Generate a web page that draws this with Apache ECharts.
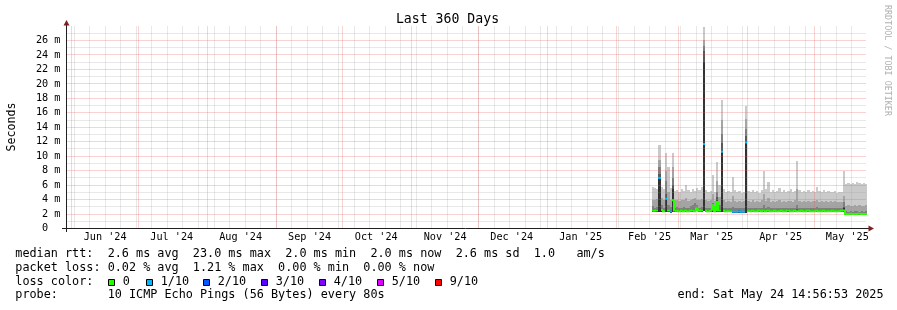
<!DOCTYPE html>
<html>
<head>
<meta charset="utf-8">
<script src="https://cdn.jsdelivr.net/npm/echarts@6/dist/echarts.min.js"></script>
<style>
html,body{margin:0;padding:0;background:#fff;}
#chart{width:897px;height:310px;}
</style>
</head>
<body>
<div id="chart"></div>
<script>
// ---------------- DATA ----------------
const END_TIME = '2025-05-24T14:56:53';
const SPAN_DAYS = 360;

const dayDates = [
 '2025-02-17','2025-02-18','2025-02-19','2025-02-20','2025-02-21','2025-02-22','2025-02-23','2025-02-24','2025-02-25','2025-02-26','2025-02-27','2025-02-28',
 '2025-03-01','2025-03-02','2025-03-03','2025-03-04','2025-03-05','2025-03-06','2025-03-07','2025-03-08','2025-03-09','2025-03-10',
 '2025-03-11','2025-03-12','2025-03-13','2025-03-14','2025-03-15','2025-03-16','2025-03-17','2025-03-18','2025-03-19','2025-03-20',
 '2025-03-21','2025-03-22','2025-03-23','2025-03-24','2025-03-25','2025-03-26','2025-03-27','2025-03-28','2025-03-29','2025-03-30','2025-03-31',
 '2025-04-01','2025-04-02','2025-04-03','2025-04-04','2025-04-05','2025-04-06','2025-04-07','2025-04-08','2025-04-09','2025-04-10',
 '2025-04-11','2025-04-12','2025-04-13','2025-04-14','2025-04-15','2025-04-16','2025-04-17','2025-04-18','2025-04-19','2025-04-20',
 '2025-04-21','2025-04-22','2025-04-23','2025-04-24','2025-04-25','2025-04-26','2025-04-27','2025-04-28','2025-04-29','2025-04-30',
 '2025-05-01','2025-05-02','2025-05-03','2025-05-04','2025-05-05','2025-05-06','2025-05-07','2025-05-08','2025-05-09','2025-05-10',
 '2025-05-11','2025-05-12','2025-05-13','2025-05-14','2025-05-15','2025-05-16','2025-05-17','2025-05-18','2025-05-19','2025-05-20',
 '2025-05-21','2025-05-22','2025-05-23','2025-05-24'
];

// median RTT (ms)
const medianMs = [
 2.5,2.45,2.5,7.0,2.55,2.4,4.1,2.5,2.35,3.9,2.5,2.45,
 2.4,2.45,2.4,2.45,2.4,2.45,2.5,2.4,2.75,2.45,2.5,11.7,2.45,2.4,2.45,3.2,2.4,3.7,2.5,10.6,2.45,2.4,2.4,2.4,2.3,2.3,2.3,2.35,2.3,2.3,11.9,
 2.4,2.4,2.45,2.4,2.4,2.45,2.4,2.5,2.4,2.45,2.4,2.4,2.45,2.4,2.4,2.45,2.4,2.4,2.5,2.4,2.4,2.45,2.4,2.4,2.45,2.4,2.4,2.45,2.4,2.4,
 2.4,2.45,2.4,2.4,2.45,2.4,2.4,2.4,2.45,2.4,2.4,2.4,2.45,2.5,2.0,2.0,2.05,2.0,2.0,2.0,2.05,2.0,2.0,2.0
];

// packet loss per day, in tenths (pings lost out of 10)
const lossTenths = [
 0,0,0,1,0,0,1,0,1,0,0,0,
 0,0,0,0,0,0,0,0,0,0,0,1,0,0,0,0,0,0,0,1,0,0,0,0,1,1,1,1,1,1,1,
 0,0,0,0,0,0,0,0,0,0,0,0,0,0,0,0,0,0,0,0,0,0,0,0,0,0,0,0,0,0,
 0,0,0,0,0,0,0,0,0,0,0,0,0,0,0,0,0,0,0,0,0,0,0,0
];

// smoke: sorted ping RTTs (ms) — lowest ping, and pings 6..10 of 10
const pingLowMs = [
 2.3,2.3,2.35,2.3,2.35,2.25,2.3,2.3,2.2,2.3,2.35,2.3,
 2.25,2.3,2.25,2.3,2.25,2.3,2.35,2.25,2.4,2.3,2.35,2.4,2.3,2.25,2.3,2.3,2.25,2.3,2.3,2.35,2.3,2.25,2.25,2.25,2.15,2.15,2.15,2.2,2.15,2.15,2.2,
 2.25,2.25,2.3,2.25,2.25,2.3,2.25,2.3,2.25,2.3,2.25,2.25,2.3,2.25,2.25,2.3,2.25,2.25,2.3,2.25,2.25,2.3,2.25,2.25,2.3,2.25,2.25,2.3,2.25,2.25,
 2.25,2.3,2.25,2.25,2.3,2.25,2.25,2.25,2.3,2.25,2.25,2.25,2.3,2.3,1.85,1.85,1.9,1.85,1.85,1.85,1.9,1.85,1.85,1.85
];
const ping6Ms = [
 2.5,2.45,2.5,7.0,2.55,2.4,4.2,2.5,2.35,5.4,2.5,2.45,
 2.4,2.45,2.4,2.45,2.4,2.45,2.5,2.4,2.75,2.45,2.5,23.0,2.45,2.4,2.45,3.2,2.4,3.9,2.5,10.6,2.45,2.4,2.4,2.4,2.3,2.3,2.3,2.35,2.3,2.3,12.0,
 2.4,2.4,2.45,2.4,2.4,2.45,2.4,2.5,2.4,2.45,2.4,2.4,2.45,2.4,2.4,2.45,2.4,2.4,2.5,2.4,2.4,2.45,2.4,2.4,2.45,2.4,2.4,2.45,2.4,2.4,
 2.4,2.45,2.4,2.4,2.45,2.4,2.4,2.4,2.45,2.4,2.4,2.4,2.45,2.8,2.0,2.0,2.05,2.0,2.0,2.0,2.05,2.0,2.0,2.0
];
const ping7Ms = [
 2.65,2.6,2.65,7.6,2.7,2.55,4.8,2.65,2.5,6.0,2.65,2.6,
 2.55,2.6,2.55,2.6,2.55,2.6,2.7,2.6,2.9,2.6,2.65,24.5,2.6,2.55,2.6,3.3,2.55,4.4,2.7,11.8,2.6,2.55,2.55,2.55,2.45,2.45,2.45,2.5,2.45,2.45,12.8,
 2.55,2.55,2.6,2.55,2.55,2.6,2.55,2.7,2.55,2.6,2.55,2.55,2.6,2.55,2.55,2.6,2.55,2.55,2.65,2.55,2.55,2.6,2.7,2.55,2.6,2.55,2.55,2.6,2.55,2.55,
 2.55,2.6,2.55,2.55,2.6,2.55,2.55,2.55,2.6,2.55,2.55,2.55,2.6,3.0,2.15,2.15,2.2,2.15,2.15,2.15,2.2,2.15,2.15,2.15
];
const ping8Ms = [
 3.1,2.9,3.0,8.5,3.2,2.9,6.5,3.3,3.0,7.0,2.9,3.0,
 2.85,2.9,3.0,2.9,2.85,3.1,3.3,3.5,3.2,2.9,3.0,25.2,2.9,2.85,2.9,3.5,2.85,5.0,3.3,13.0,2.9,2.85,2.9,2.85,3.0,2.85,2.85,2.9,2.85,2.85,13.8,
 2.85,2.8,2.85,2.8,2.85,2.8,2.85,3.2,2.85,2.95,2.8,2.85,2.8,2.85,2.8,2.85,2.85,2.8,2.85,2.8,2.85,2.85,3.3,2.85,2.8,2.85,2.8,2.85,2.8,2.85,
 2.85,2.95,2.8,2.85,2.8,2.85,2.8,2.85,2.8,2.85,2.8,2.8,2.85,3.6,2.4,2.35,2.4,2.35,2.4,2.4,2.35,2.4,2.35,2.4
];
const ping9Ms = [
 4.0,3.9,4.1,9.5,4.2,3.9,8.0,5.0,4.0,8.5,3.9,4.0,
 3.8,3.9,4.0,4.2,3.8,3.9,4.1,4.2,4.0,3.9,4.1,26.0,3.9,3.8,3.9,4.8,3.8,6.5,4.3,15.0,3.9,3.7,3.8,3.7,4.5,3.8,3.7,3.8,3.7,3.8,15.2,
 3.8,3.7,3.9,3.7,3.8,3.7,3.9,4.8,3.8,4.2,3.7,3.8,3.7,3.8,3.9,3.7,3.8,3.7,3.8,3.8,3.7,3.9,5.5,3.8,3.7,3.8,3.7,3.8,3.7,3.8,
 3.8,4.0,3.7,3.8,3.7,3.8,3.7,3.8,3.7,3.8,3.7,3.6,3.7,4.5,3.1,3.2,3.1,3.1,3.2,3.1,3.2,3.1,3.1,3.2
];
const ping10Ms = [
 5.8,5.6,5.5,11.6,5.7,5.4,10.4,8.5,5.6,10.4,5.2,5.3,
 5.1,5.4,5.2,6.0,5.3,5.1,5.5,5.2,5.6,5.3,5.8,27.8,5.3,5.0,5.2,7.4,5.1,9.2,6.0,17.7,5.4,5.0,5.2,5.1,7.1,5.3,5.0,5.2,4.9,5.1,17.0,
 5.2,5.0,5.3,5.1,5.2,4.9,5.3,8.0,5.4,6.4,5.1,5.3,5.0,5.2,5.6,5.1,5.3,5.0,5.2,5.4,5.1,5.2,9.4,5.3,5.1,5.2,5.0,5.3,5.1,5.2,
 5.0,5.8,5.2,5.1,5.3,5.0,5.2,5.1,5.0,5.2,4.9,5.0,5.1,8.0,6.2,6.3,6.1,6.3,6.2,6.4,6.3,6.2,6.3,6.2
];

// axis ticks / labels
const yMax = 28;
const yMajorTicks = [2,4,6,8,10,12,14,16,18,20,22,24,26];
const yMinorTicks = [1,3,5,7,9,11,13,15,17,19,21,23,25,27];
const monthStarts = ['2024-06-01','2024-07-01','2024-08-01','2024-09-01','2024-10-01','2024-11-01','2024-12-01',
                     '2025-01-01','2025-02-01','2025-03-01','2025-04-01','2025-05-01'];
const weekStarts = ['2024-06-02','2024-06-09','2024-06-16','2024-06-23','2024-06-30','2024-07-07','2024-07-14','2024-07-21','2024-07-28',
 '2024-08-04','2024-08-11','2024-08-18','2024-08-25','2024-09-01','2024-09-08','2024-09-15','2024-09-22','2024-09-29',
 '2024-10-06','2024-10-13','2024-10-20','2024-10-27','2024-11-03','2024-11-10','2024-11-17','2024-11-24',
 '2024-12-01','2024-12-08','2024-12-15','2024-12-22','2024-12-29','2025-01-05','2025-01-12','2025-01-19','2025-01-26',
 '2025-02-02','2025-02-09','2025-02-16','2025-02-23','2025-03-02','2025-03-09','2025-03-16','2025-03-23','2025-03-30',
 '2025-04-06','2025-04-13','2025-04-20','2025-04-27','2025-05-04','2025-05-11','2025-05-18'];
const monthLabelDates = ['2024-06-16','2024-07-16','2024-08-16','2024-09-16','2024-10-16','2024-11-16','2024-12-16',
                         '2025-01-16','2025-02-16','2025-03-16','2025-04-16','2025-05-16'];
const monthLabels = ["Jun '24","Jul '24","Aug '24","Sep '24","Oct '24","Nov '24","Dec '24",
                     "Jan '25","Feb '25","Mar '25","Apr '25","May '25"];

// loss colour legend
const lossLevels = [0,1,2,3,4,5,9];
const lossColors = ['#26ff00','#00b8ff','#0059ff','#5e00ff','#7e00ff','#dd00ff','#ff0000'];
const lossLabels = ['0','1/10','2/10','3/10','4/10','5/10','9/10'];

// smoke shades (outer to inner)
const smokeColors = ['#cacaca','#a4a4a4','#7e7e7e','#585858','#323232'];

const legendLines = [
  'median rtt:  2.6 ms avg  23.0 ms max  2.0 ms min  2.0 ms now  2.6 ms sd  1.0   am/s',
  'packet loss: 0.02 % avg  1.21 % max  0.00 % min  0.00 % now',
  'loss color:',
  'probe:       10 ICMP Echo Pings (56 Bytes) every 80s'
];
const endText = 'end: Sat May 24 14:56:53 2025';
const titleText = 'Last 360 Days';

// ---------------- BUILD ----------------
function ts(s){
  const parts = s.split('T');
  const d = parts[0].split('-').map(Number);
  let h=0,mi=0,se=0;
  if (parts[1]) { [h,mi,se] = parts[1].split(':').map(Number); }
  return Date.UTC(d[0], d[1]-1, d[2], h, mi, se);
}
const tEnd = ts(END_TIME);
const tStart = tEnd - SPAN_DAYS*86400000;
const dayStart = dayDates.map(ts);
const dayEnd = dayStart.map((t,i)=> i < dayStart.length-1 ? dayStart[i+1] : tEnd);

function lossIdx(l){
  let c = 0;
  for (let k=0;k<lossLevels.length;k++){ if (l >= lossLevels[k]) c = k; }
  return c;
}
function lossColor(l){ return lossColors[lossIdx(l)]; }

const FONT = 'DejaVu Sans Mono';

function smokeSeries(name, hiArr, color){
  const data = dayStart.map((t,i)=>[t, dayEnd[i], pingLowMs[i], hiArr[i]]);
  return {
    type:'custom', name, data, silent:true, animation:false, z:2, clip:true,
    encode:{x:[0,1], y:[2,3]},
    renderItem(params, api){
      const a = api.coord([api.value(0), api.value(2)]);
      const b = api.coord([api.value(1), api.value(3)]);
      const x0 = Math.round(a[0]), x1 = Math.round(b[0]);
      const y0 = Math.round(a[1]), y1 = Math.round(b[1]);
      return {type:'rect', shape:{x:x0, y:y1, width:x1-x0, height:y0-y1}, style:{fill:color}};
    }
  };
}

function vGridSeries(dates, color){
  return {
    type:'custom', silent:true, animation:false, z:3,
    data: dates.map(d=>[ts(d), 0]),
    encode:{x:0, y:1},
    renderItem(params, api){
      const p0 = api.coord([api.value(0), 0]);
      const p1 = api.coord([api.value(0), yMax]);
      const x = Math.floor(p0[0]) + 0.5;
      return {type:'line', shape:{x1:x, y1:p0[1], x2:x, y2:p1[1]},
        style:{stroke:color, lineWidth:1, lineDash:[1,1]}};
    }
  };
}
function hGridSeries(vals, color){
  return {
    type:'custom', silent:true, animation:false, z:3,
    data: vals.map(v=>[tStart, v]),
    encode:{x:0, y:1},
    renderItem(params, api){
      const p0 = api.coord([tStart, api.value(1)]);
      const p1 = api.coord([tEnd, api.value(1)]);
      const y = Math.floor(p0[1]) + 0.5;
      return {type:'line', shape:{x1:p0[0], y1:y, x2:p1[0], y2:y},
        style:{stroke:color, lineWidth:1, lineDash:[1,1]}};
    }
  };
}

// a vertical connector is drawn only between neighbouring days of the same loss class
// whose medians are close (tall one-day spikes show as isolated dots, as in RRDtool output)
const medianData = dayStart.map((t,i)=>[
  t, dayEnd[i], medianMs[i],
  i>0 ? medianMs[i-1] : medianMs[i],
  (i>0 && lossIdx(lossTenths[i])===lossIdx(lossTenths[i-1]) && Math.abs(medianMs[i]-medianMs[i-1]) < 5) ? 1 : 0,
  lossTenths[i]
]);
const medianSeries = {
  type:'custom', silent:true, animation:false, z:4, data: medianData,
  encode:{x:[0,1], y:2},
  renderItem(params, api){
    const a = api.coord([api.value(0), api.value(2)]);
    const b = api.coord([api.value(1), api.value(2)]);
    const xa = Math.round(a[0]), xb = Math.round(b[0]);
    const pts = [];
    if (api.value(4)) {
      const p = api.coord([api.value(0), api.value(3)]);
      pts.push([xa, p[1]]);
    }
    pts.push([xa, a[1]]);
    pts.push([xb, b[1]]);
    return {type:'polyline', shape:{points:pts},
      style:{stroke:lossColor(api.value(5)), lineWidth:2, fill:null}};
  }
};

const labelTimes = monthLabelDates.map(ts);

// graphic (text, axes, legend)
const graphics = [];
graphics.push({type:'text', x:447.5, y:19.5, z:10,
  style:{text:titleText, font:'13.2px "'+FONT+'"', fill:'#000', align:'center', verticalAlign:'middle'}});
graphics.push({type:'text', x:11.5, y:127, rotation:Math.PI/2, z:10,
  style:{text:'Seconds', font:'11.6px "'+FONT+'"', fill:'#000', align:'center', verticalAlign:'middle'}});
graphics.push({type:'text', x:887, y:5, rotation:-Math.PI/2, z:10,
  style:{text:'RRDTOOL / TOBI OETIKER', font:'8.4px "'+FONT+'"', fill:'#b0b0b0', align:'left', verticalAlign:'middle'}});
// axes
graphics.push({type:'line', z:10, shape:{x1:62, y1:228.5, x2:869, y2:228.5}, style:{stroke:'#1f1f1f', lineWidth:1}});
graphics.push({type:'line', z:10, shape:{x1:66.5, y1:232, x2:66.5, y2:23}, style:{stroke:'#1f1f1f', lineWidth:1}});
graphics.push({type:'polygon', z:11, shape:{points:[[63.5,25.5],[69.5,25.5],[66.5,20]]}, style:{fill:'#801f1f'}});
graphics.push({type:'polygon', z:11, shape:{points:[[868.5,225.5],[868.5,231.5],[874,228.5]]}, style:{fill:'#801f1f'}});
// legend lines
const legendY = [254.2, 267.9, 281.6, 295.3];
legendLines.forEach((s,k)=>{
  graphics.push({type:'text', x:15.3, y:legendY[k], z:10,
    style:{text:s, font:'11.8px "'+FONT+'"', fill:'#000', align:'left', verticalAlign:'middle'}});
});
graphics.push({type:'text', x:677.6, y:legendY[3], z:10,
  style:{text:endText, font:'11.8px "'+FONT+'"', fill:'#000', align:'left', verticalAlign:'middle'}});
const sqX = [108.5, 146.5, 203.5, 261.5, 319.5, 377.5, 435.5];
lossLabels.forEach((lab,k)=>{
  graphics.push({type:'rect', z:10, shape:{x:sqX[k], y:279.5, width:6, height:6},
    style:{fill:lossColors[k], stroke:'#000', lineWidth:1}});
  graphics.push({type:'text', x:sqX[k]+14.2, y:legendY[2], z:10,
    style:{text:lab, font:'11.8px "'+FONT+'"', fill:'#000', align:'left', verticalAlign:'middle'}});
});

const chart = echarts.init(document.getElementById('chart'), null, {renderer:'canvas'});
chart.setOption({
  animation:false,
  backgroundColor:'#ffffff',
  grid:{left:66.5, right:30.5, top:26, bottom:81.5, containLabel:false, outerBoundsMode:'none'},
  xAxis:{
    type:'value', min:tStart, max:tEnd,
    axisLine:{show:false}, axisTick:{show:false}, splitLine:{show:false},
    axisLabel:{customValues:labelTimes, margin:4, fontFamily:FONT, fontSize:10.2, color:'#000',
      formatter:(v)=>{ const k = labelTimes.indexOf(v); return k>=0 ? monthLabels[k] : ''; }}
  },
  yAxis:{
    type:'value', min:0, max:yMax, interval:2,
    axisLine:{show:false}, axisTick:{show:false}, splitLine:{show:false},
    axisLabel:{margin:6, fontFamily:FONT, fontSize:10.2, color:'#000', showMaxLabel:false,
      formatter:(v)=> v===0 ? '0  ' : (v + ' m')}
  },
  series:[
    smokeSeries('smoke1', ping10Ms, smokeColors[0]),
    smokeSeries('smoke2', ping9Ms, smokeColors[1]),
    smokeSeries('smoke3', ping8Ms, smokeColors[2]),
    smokeSeries('smoke4', ping7Ms, smokeColors[3]),
    smokeSeries('smoke5', ping6Ms, smokeColors[4]),
    hGridSeries(yMinorTicks, 'rgba(150,150,150,0.45)'),
    vGridSeries(weekStarts, 'rgba(150,150,150,0.45)'),
    hGridSeries(yMajorTicks, 'rgba(235,95,95,0.55)'),
    vGridSeries(monthStarts, 'rgba(235,95,95,0.55)'),
    medianSeries
  ],
  graphic:graphics
});
</script>
</body>
</html>
